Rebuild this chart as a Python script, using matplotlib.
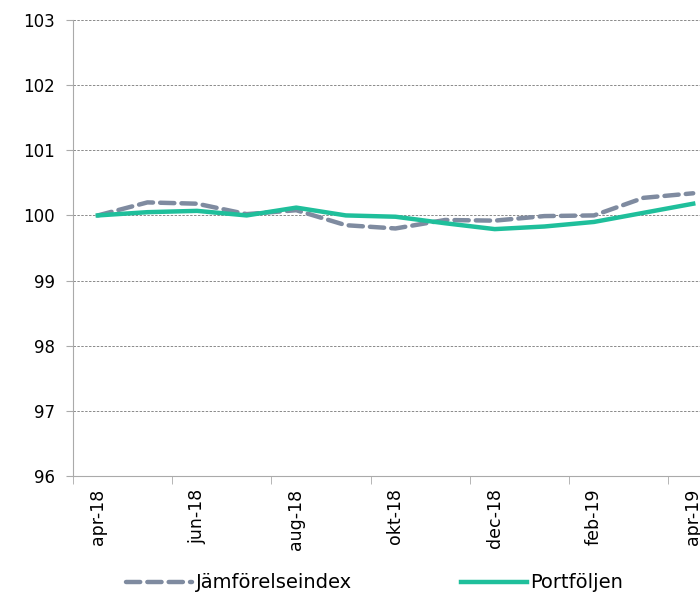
import numpy as np
import matplotlib
matplotlib.use("Agg")
import matplotlib.pyplot as plt

months = ["apr-18", "maj-18", "jun-18", "jul-18", "aug-18", "sep-18", "okt-18",
          "nov-18", "dec-18", "jan-19", "feb-19", "mar-19", "apr-19"]
jamforelseindex = [100.0, 100.20, 100.18, 100.02, 100.08, 99.85, 99.80,
                   99.93, 99.92, 99.99, 100.0, 100.27, 100.34]
portfoljen = [100.0, 100.05, 100.07, 100.0, 100.12, 100.0, 99.98,
              99.88, 99.79, 99.83, 99.90, 100.04, 100.18]

plt.rcParams['font.family'] = ['DejaVu Sans']

fig = plt.figure(figsize=(7, 5.95), dpi=100)
ax = fig.add_axes([73/700, 1 - 476/595, 645/700, 456/595])

x = np.arange(len(months))
ax.plot(x, jamforelseindex, color="#7f8ba0", lw=3.2, dashes=(3.2, 1.6),
        dash_capstyle="round", label="Jämförelseindex")
ax.plot(x, portfoljen, color="#1fbf9b", lw=3.2, label="Portföljen")

ax.set_xlim(-0.5, len(months) - 0.5)
ax.set_ylim(96, 103)
ax.set_yticks(range(96, 104))
ax.tick_params(axis='y', labelsize=12, length=5, color="#aaaaaa", pad=8)

ax.set_xticks(x[::2])
ax.set_xticklabels(months[::2], rotation=90, fontsize=12.5)
ax.set_xticks(np.arange(-0.5, len(months), 2), minor=True)
ax.tick_params(axis='x', which='major', length=0, pad=9)
ax.tick_params(axis='x', which='minor', length=6, color="#aaaaaa")

ax.grid(axis='y', ls=(0, (2.5, 1.5)), color="#8a8a8a", lw=0.7)
ax.set_axisbelow(True)
for s in ["top", "right"]:
    ax.spines[s].set_visible(False)
for s in ["left", "bottom"]:
    ax.spines[s].set_color("#aaaaaa")

fig.legend(loc="center", bbox_to_anchor=(0.535, 583/595 * 0 + 12/595), ncol=2, frameon=False,
           fontsize=14, handlelength=3.4, handletextpad=0.2, columnspacing=5.6)

fig.savefig("out.png", dpi=100)
